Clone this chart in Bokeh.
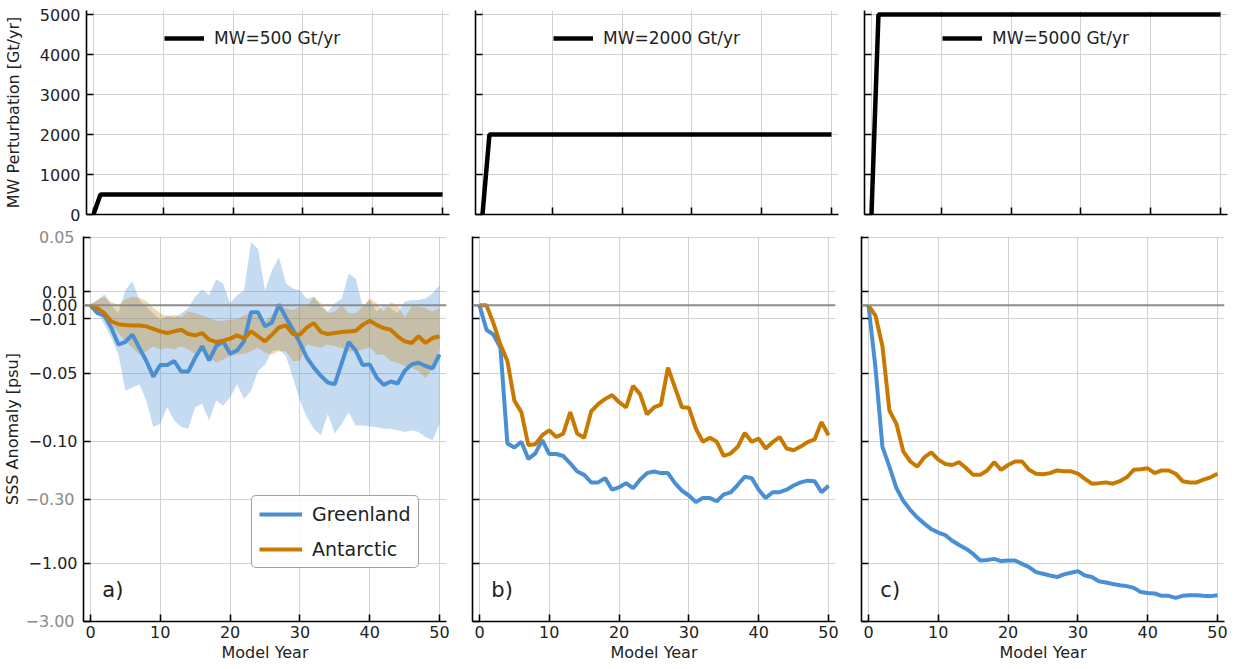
import numpy as np
from bokeh.plotting import figure
from bokeh.layouts import row, column
from bokeh.models import (FixedTicker, Span, Legend, LegendItem, Label, Range1d,
                          CustomJSTickFormatter, LinearAxis)
from bokeh.embed import file_html
from bokeh.resources import INLINE

# ---------------- data ----------------
years = list(range(51))
mw_years = [0, 1, 50]
mw_a = [0, 500, 500]
mw_b = [0, 2000, 2000]
mw_c = [0, 5000, 5000]
mw_labels = ["MW=500 Gt/yr", "MW=2000 Gt/yr", "MW=5000 Gt/yr"]

grl_a = [0.0, -0.0058, -0.0075, -0.0168, -0.0289, -0.027, -0.0216, -0.0313, -0.041, -0.0525,
         -0.044, -0.044, -0.041, -0.0488, -0.0488, -0.0386, -0.0301, -0.0406, -0.0301, -0.0265,
         -0.0357, -0.0333, -0.0265, -0.0051, -0.0051, -0.0155, -0.0126, 0.0007, -0.009, -0.018,
         -0.0277, -0.0386, -0.0459, -0.052, -0.0569, -0.0581, -0.0423, -0.027, -0.0333, -0.044,
         -0.0435, -0.0532, -0.0586, -0.0561, -0.0576, -0.0484, -0.0435, -0.0423, -0.0447, -0.0464,
         -0.0362]
grl_a_hi = [0.0007, 0.0039, 0.008, -0.0002, -0.0058, 0.0112, 0.0177, 0.0039, -0.001, -0.0058,
            -0.0107, -0.0075, -0.009, -0.0058, -0.0022, 0.0063, 0.0117, 0.0075, 0.0192, 0.016,
            0.0015, 0.0075, 0.0112, 0.0464, 0.0416, 0.0112, 0.0258, 0.0355, 0.016, 0.0124,
            0.0112, 0.0046, 0.0063, -0.001, -0.0046, 0.0015, 0.0051, 0.0233, 0.0197, -0.001,
            0.0039, -0.0046, 0.0002, -0.0022, -0.0058, 0.0027, 0.0039, 0.0039, 0.0051, 0.0087,
            0.0148]
grl_a_lo = [0.0, -0.0046, -0.0143, -0.0241, -0.0362, -0.0629, -0.0605, -0.0581, -0.0702, -0.0897,
            -0.0872, -0.0751, -0.0848, -0.0897, -0.0909, -0.0751, -0.0727, -0.0848, -0.0702, -0.0739,
            -0.0678, -0.0581, -0.069, -0.0629, -0.0484, -0.0435, -0.0338, -0.0326, -0.0374, -0.0532,
            -0.0702, -0.0824, -0.0909, -0.0957, -0.08, -0.0945, -0.0872, -0.0787, -0.0885, -0.0885,
            -0.0892, -0.0897, -0.0909, -0.0909, -0.0921, -0.0933, -0.0921, -0.0933, -0.097, -0.0994,
            -0.0872]
ant_a = [0.0, -0.0022, -0.0058, -0.0119, -0.0139, -0.0144, -0.0148, -0.0148, -0.0155, -0.0173,
         -0.0192, -0.0204, -0.0192, -0.018, -0.0211, -0.0221, -0.0204, -0.0253, -0.027, -0.026,
         -0.0245, -0.0221, -0.0245, -0.0192, -0.0228, -0.0265, -0.0216, -0.0163, -0.0148, -0.0211,
         -0.0216, -0.0163, -0.0131, -0.0197, -0.0211, -0.0204, -0.0197, -0.0192, -0.0187, -0.0144,
         -0.0114, -0.0144, -0.0168, -0.018, -0.0228, -0.0265, -0.0277, -0.0228, -0.0277, -0.0241,
         -0.0228]
ant_a_hi = [0.0007, 0.0039, 0.0063, 0.0022, 0.0002, 0.0046, 0.0063, 0.0056, 0.0032, -0.0017,
            -0.0058, -0.0083, -0.007, -0.009, -0.0046, -0.0058, -0.0075, -0.0095, -0.0114, -0.0114,
            -0.0107, -0.01, -0.0075, -0.0058, -0.0083, -0.0119, -0.007, -0.0022, -0.0022, -0.0034,
            -0.001, -0.001, 0.0063, 0.0015, -0.0058, -0.0046, -0.0002, -0.0058, -0.0058, -0.001,
            0.0051, 0.0015, -0.0046, 0.0022, 0.0002, -0.009, -0.001, -0.001, -0.0022, -0.0046,
            -0.0022]
ant_a_lo = [0.0, -0.0058, -0.0095, -0.0143, -0.0204, -0.0265, -0.0313, -0.0362, -0.0338, -0.0301,
            -0.0326, -0.0313, -0.0326, -0.0301, -0.0326, -0.0362, -0.0338, -0.0374, -0.0423, -0.0399,
            -0.0374, -0.0362, -0.0357, -0.0338, -0.0313, -0.035, -0.0362, -0.0338, -0.0338, -0.041,
            -0.041, -0.0289, -0.0301, -0.0313, -0.0289, -0.0301, -0.0313, -0.0338, -0.0338, -0.0326,
            -0.0309, -0.0362, -0.0362, -0.041, -0.0423, -0.0447, -0.0459, -0.0484, -0.0537, -0.0459,
            -0.0313]
grl_b = [0.0, -0.018, -0.0216, -0.0313, -0.1047, -0.113, -0.1014, -0.140, -0.126, -0.0993,
         -0.1277, -0.1277, -0.1325, -0.152, -0.1775, -0.189, -0.218, -0.218, -0.201, -0.250,
         -0.239, -0.221, -0.243, -0.2075, -0.183, -0.1775, -0.183, -0.183, -0.221, -0.255,
         -0.279, -0.316, -0.293, -0.293, -0.311, -0.273, -0.263, -0.228, -0.196, -0.201,
         -0.250, -0.293, -0.262, -0.262, -0.250, -0.231, -0.218, -0.211, -0.213, -0.262,
         -0.232]
ant_b = [0.0, 0.0, -0.0131, -0.0289, -0.041, -0.0702, -0.0787, -0.1079, -0.106, -0.0957,
         -0.0921, -0.097, -0.0945, -0.0787, -0.0945, -0.0975, -0.0782, -0.0727, -0.069, -0.0661,
         -0.0714, -0.0751, -0.0593, -0.0654, -0.0804, -0.0751, -0.0731, -0.0459, -0.0605, -0.0751,
         -0.0755, -0.0909, -0.1014, -0.0975, -0.1014, -0.1325, -0.126, -0.1114, -0.094, -0.1014,
         -0.0982, -0.115, -0.102, -0.097, -0.115, -0.119, -0.111, -0.102, -0.0988, -0.086,
         -0.0957]
grl_c = [0.0, -0.0459, -0.1114, -0.162, -0.2425, -0.310, -0.367, -0.423, -0.474, -0.526,
         -0.561, -0.589, -0.655, -0.710, -0.764, -0.840, -0.951, -0.94, -0.921, -0.96,
         -0.951, -0.951, -1.012, -1.077, -1.183, -1.22, -1.259, -1.297, -1.233, -1.197,
         -1.161, -1.259, -1.297, -1.406, -1.44, -1.479, -1.514, -1.54, -1.592, -1.717,
         -1.75, -1.77, -1.849, -1.849, -1.92, -1.849, -1.83, -1.83, -1.849, -1.86,
         -1.83]
ant_c = [0.0, -0.0075, -0.0301, -0.0775, -0.0873, -0.122, -0.147, -0.162, -0.136, -0.124,
         -0.142, -0.154, -0.157, -0.149, -0.167, -0.189, -0.189, -0.174, -0.149, -0.172,
         -0.157, -0.147, -0.147, -0.172, -0.185, -0.187, -0.183, -0.174, -0.177, -0.177,
         -0.185, -0.2035, -0.2235, -0.221, -0.218, -0.2235, -0.213, -0.198, -0.172, -0.170,
         -0.167, -0.183, -0.174, -0.174, -0.185, -0.213, -0.218, -0.218, -0.207, -0.198,
         -0.185]

sss_ticks = [0.05, 0.01, 0.0, -0.01, -0.05, -0.10, -0.30, -1.00, -3.00]
sss_tick_labels = ["0.05", "0.01", "0.00", "\u22120.01", "\u22120.05", "\u22120.10",
                   "\u22120.30", "\u22121.00", "\u22123.00"]
sss_tick_gray = [True, False, False, False, False, False, True, False, True]
mw_ticks = [0, 1000, 2000, 3000, 4000, 5000]
year_ticks = [0, 10, 20, 30, 40, 50]
panel_letters = ["a)", "b)", "c)"]

# ---------------- symlog transform (linthresh 0.1, linscale 1) ----------------
LINTHRESH = 0.1
LINSCALE_ADJ = 1.0 / (1.0 - 1.0 / 10.0)


def symlog(v):
    v = np.asarray(v, dtype=float)
    a = np.abs(v)
    inside = a <= LINTHRESH
    out = np.where(inside, a / LINTHRESH * LINSCALE_ADJ,
                   LINSCALE_ADJ + np.log10(np.maximum(a, 1e-12) / LINTHRESH))
    return np.sign(v) * out


BLUE = "#4b8fd3"
ORANGE = "#c87a00"
FONT = "DejaVu Sans"
TXT = "#222222"
GRAY_TXT = "#8a8a8a"

FW = 363
TOP_FH = 204
BOT_FH = 385
borders = [(81, 13), (13, 13), (13, 5)]

empty_fmt = "return ''"


def style_axis(ax):
    ax.axis_line_color = "black"
    ax.axis_line_width = 1.6
    ax.major_tick_line_color = "black"
    ax.major_tick_line_width = 1.6
    ax.major_tick_in = 7
    ax.major_tick_out = 0
    ax.minor_tick_line_color = None
    ax.major_label_text_font = FONT
    ax.major_label_text_font_size = "16px"
    ax.major_label_text_color = TXT
    ax.axis_label_text_font = FONT
    ax.axis_label_text_font_size = "16px"
    ax.axis_label_text_font_style = "normal"
    ax.axis_label_text_color = TXT


def style(p, left_labels, bottom_labels):
    p.outline_line_color = None
    p.background_fill_color = "white"
    p.border_fill_color = "white"
    style_axis(p.xaxis[0])
    style_axis(p.yaxis[0])
    p.grid.grid_line_color = "#d2d2d2"
    p.grid.grid_line_width = 1
    if not left_labels:
        p.yaxis[0].formatter = CustomJSTickFormatter(code=empty_fmt)
        p.yaxis[0].major_label_standoff = 0
    if not bottom_labels:
        p.xaxis[0].formatter = CustomJSTickFormatter(code=empty_fmt)
        p.xaxis[0].major_label_standoff = 0


tops = []
bots = []
mw_series = [mw_a, mw_b, mw_c]
grl_series = [grl_a, grl_b, grl_c]
ant_series = [ant_a, ant_b, ant_c]

y_lo = float(symlog(-3.0))
y_hi = float(symlog(0.05)) + 0.008
sss_tick_pos = [round(float(symlog(v)), 6) for v in sss_ticks]
dark_overrides = {tp: ("" if g else lab)
                  for tp, lab, g in zip(sss_tick_pos, sss_tick_labels, sss_tick_gray)}
gray_overrides = {tp: (lab if g else "")
                  for tp, lab, g in zip(sss_tick_pos, sss_tick_labels, sss_tick_gray)}

for i in range(3):
    bl, br = borders[i]
    # --- top panel ---
    pt = figure(frame_width=FW, frame_height=TOP_FH, x_range=Range1d(-1, 51),
                y_range=Range1d(0, 5100), toolbar_location=None, output_backend="svg",
                min_border_left=bl, min_border_right=br, min_border_top=10,
                min_border_bottom=10)
    style(pt, i == 0, False)
    pt.xaxis.ticker = FixedTicker(ticks=year_ticks)
    pt.yaxis.ticker = FixedTicker(ticks=mw_ticks)
    if i == 0:
        pt.yaxis.axis_label = "MW Perturbation [Gt/yr]"
        pt.yaxis.major_label_standoff = 6
        pt.yaxis.axis_label_standoff = 14
    r = pt.line(mw_years, mw_series[i], line_color="black", line_width=4.5)
    leg = Legend(items=[LegendItem(label=mw_labels[i], renderers=[r])],
                 location=(78, 166), orientation="vertical",
                 border_line_color=None, background_fill_alpha=0,
                 padding=0, margin=0, glyph_width=40, glyph_height=20,
                 label_standoff=10, label_text_font=FONT,
                 label_text_font_size="17px", label_text_color=TXT)
    pt.add_layout(leg)
    tops.append(pt)

    # --- bottom panel ---
    pb = figure(frame_width=FW, frame_height=BOT_FH, x_range=Range1d(-1, 51),
                y_range=Range1d(y_lo, y_hi), toolbar_location=None, output_backend="svg",
                min_border_left=bl, min_border_right=br,
                min_border_top=12, min_border_bottom=44)
    style(pb, i == 0, True)
    pb.xaxis.ticker = FixedTicker(ticks=year_ticks)
    pb.yaxis.ticker = FixedTicker(ticks=sss_tick_pos)
    pb.xaxis.axis_label = "Model Year"
    pb.xaxis.major_label_standoff = 4
    pb.xaxis.axis_label_standoff = 2
    if i == 0:
        pb.yaxis.major_label_overrides = dark_overrides
        pb.yaxis.major_label_standoff = 6
        # second (outer) axis: grey labels pulled back onto the same column
        ax2 = LinearAxis(ticker=FixedTicker(ticks=sss_tick_pos))
        style_axis(ax2)
        ax2.axis_line_color = None
        ax2.major_tick_line_color = None
        ax2.major_tick_in = 0
        ax2.major_tick_out = 0
        ax2.major_label_overrides = gray_overrides
        ax2.major_label_text_color = GRAY_TXT
        ax2.major_label_standoff = -49
        ax2.axis_label = "SSS Anomaly [psu]"
        ax2.axis_label_standoff = 0
        pb.add_layout(ax2, "left")

    if i == 0:
        pb.varea(x=years, y1=symlog(grl_a_lo), y2=symlog(grl_a_hi),
                 fill_color=BLUE, fill_alpha=0.32)
        pb.varea(x=years, y1=symlog(ant_a_lo), y2=symlog(ant_a_hi),
                 fill_color=ORANGE, fill_alpha=0.3)
    pb.add_layout(Span(location=0, dimension="width", line_color="#8c8c8c",
                       line_width=2))
    rg = pb.line(years, symlog(grl_series[i]), line_color=BLUE, line_width=4)
    ra = pb.line(years, symlog(ant_series[i]), line_color=ORANGE, line_width=4)
    if i == 0:
        lg = Legend(items=[LegendItem(label="Greenland", renderers=[rg]),
                           LegendItem(label="Antarctic", renderers=[ra])],
                    location=(168, 53), border_line_color="#444444",
                    border_line_width=1, background_fill_color="white",
                    background_fill_alpha=0.85, padding=7, margin=0, spacing=13,
                    glyph_width=43, glyph_height=20, label_standoff=10,
                    label_text_font=FONT, label_text_font_size="19px",
                    label_text_color=TXT)
        try:
            lg.border_radius = 5
        except Exception:
            pass
        pb.add_layout(lg)
    pb.add_layout(Label(x=1.7, y=float(symlog(-1.66)), text=panel_letters[i],
                        text_font=FONT, text_font_size="21px", text_color=TXT,
                        text_baseline="middle", text_align="left"))
    bots.append(pb)

layout = column(row(*tops), row(*bots))
open("out.html", "w").write(file_html(layout, INLINE))
